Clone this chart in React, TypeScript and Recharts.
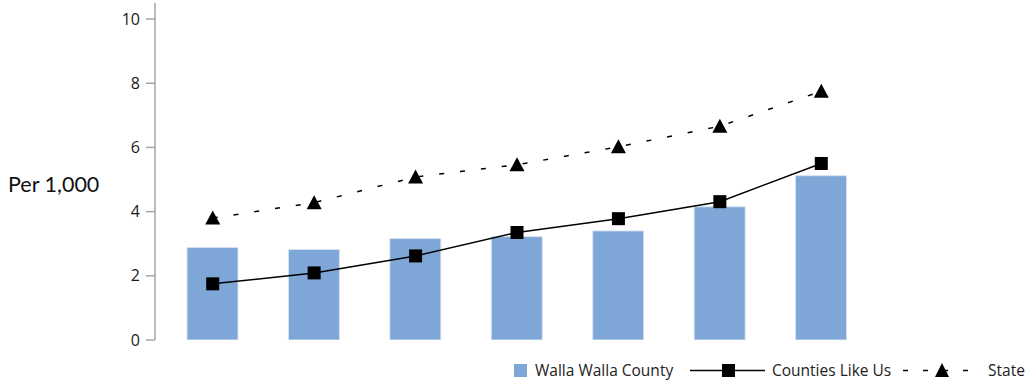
import React from 'react';
import { ComposedChart, Bar, Line, XAxis, YAxis } from 'recharts';

const categories = ['1', '2', '3', '4', '5', '6', '7'];
const wallaWalla = [2.88, 2.82, 3.16, 3.22, 3.4, 4.15, 5.12];
const countiesLikeUs = [1.75, 2.09, 2.62, 3.35, 3.78, 4.31, 5.5];
const state = [3.8, 4.28, 5.08, 5.46, 6.02, 6.66, 7.75];
const yTicks = [0, 2, 4, 6, 8, 10];

const data = categories.map((c, i) => ({
  name: c,
  walla: wallaWalla[i],
  counties: countiesLikeUs[i],
  state: state[i],
}));

const BAR_COLOR = '#7EA6D7';
const FONT = '"Open Sans", "DejaVu Sans", sans-serif';

const SquareDot = (props: any) => {
  const { cx, cy } = props;
  if (cx == null || cy == null) return null;
  return <rect x={cx - 6.5} y={cy - 6.5} width={13} height={13} fill="#000" />;
};

const TriangleDot = (props: any) => {
  const { cx, cy } = props;
  if (cx == null || cy == null) return null;
  return <path d={`M${cx},${cy - 7.5} L${cx + 7.5},${cy + 6.5} L${cx - 7.5},${cy + 6.5} Z`} fill="#000" />;
};

const LegendBar = () => (
  <div style={{ position: 'absolute', left: 0, top: 358, width: 1025, height: 25, fontFamily: FONT, fontSize: 15.5, color: '#222', whiteSpace: 'nowrap' }}>
    <svg width={1025} height={25} style={{ position: 'absolute', left: 0, top: 0, overflow: 'visible' }}>
      <rect x={514} y={6} width={13} height={13} fill={BAR_COLOR} />
      <line x1={690} y1={12.5} x2={765} y2={12.5} stroke="#000" strokeWidth={1.3} />
      <rect x={722} y={6} width={13} height={13} fill="#000" />
      <line x1={903} y1={12.5} x2={968} y2={12.5} stroke="#000" strokeWidth={1.3} strokeDasharray="5 15" />
      <path d="M942,5 L949,19 L935,19 Z" fill="#000" />
    </svg>
    <span style={{ position: 'absolute', left: 535, top: 1 }}>Walla Walla County</span>
    <span style={{ position: 'absolute', left: 772, top: 1 }}>Counties Like Us</span>
    <span style={{ position: 'absolute', left: 988, top: 1 }}>State</span>
  </div>
);

export default function App() {
  return (
    <div style={{ position: 'absolute', left: 0, top: 0, width: 1025, height: 383, background: '#fff', overflow: 'hidden' }}>
      <ComposedChart
        width={1025}
        height={383}
        data={data}
        margin={{ top: 3, right: 153, bottom: 43, left: 0 }}
        barCategoryGap={0}
      >
        <XAxis dataKey="name" hide padding={{ left: 7, right: 0 }} height={0} />
        <YAxis
          width={155}
          domain={[0, 10.5]}
          ticks={yTicks}
          allowDataOverflow
          axisLine={{ stroke: '#A6A6A6', strokeWidth: 1.5 }}
          tickLine={{ stroke: '#A6A6A6', strokeWidth: 1.5 }}
          tickSize={9}
          tick={{ fill: '#1a1a1a', fontSize: 16, fontFamily: FONT, dx: -4 }}
        />
        <Bar dataKey="walla" fill={BAR_COLOR} stroke="#D6E2F1" strokeWidth={1} barSize={51} isAnimationActive={false} />
        <Line dataKey="counties" stroke="#000" strokeWidth={1.5} dot={<SquareDot />} activeDot={false} isAnimationActive={false} />
        <Line dataKey="state" stroke="#000" strokeWidth={1.5} strokeDasharray="5 16" dot={<TriangleDot />} activeDot={false} isAnimationActive={false} />
      </ComposedChart>
      <div style={{ position: 'absolute', left: 8, top: 170, fontFamily: 'Lato, "Open Sans", sans-serif', fontSize: 21.5, lineHeight: '28px', color: '#111' }}>Per 1,000</div>
      <LegendBar />
    </div>
  );
}
